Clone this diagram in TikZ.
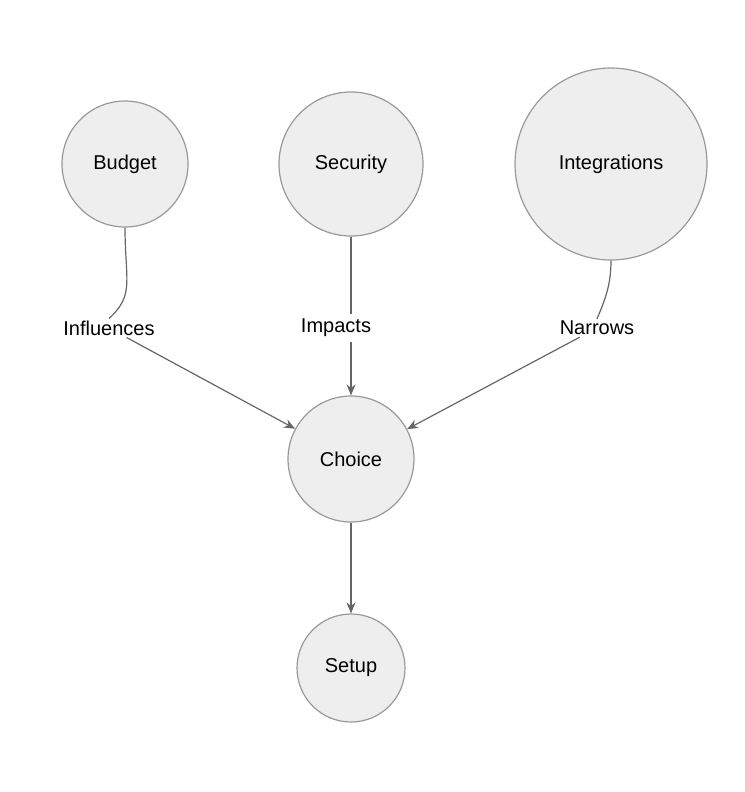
\documentclass[tikz,border=0pt]{standalone}
\usepackage{fontspec}
\setmainfont{Liberation Sans}
\usetikzlibrary{arrows.meta}
\definecolor{nodefill}{HTML}{EEEEEE}
\definecolor{nodeline}{HTML}{999999}
\definecolor{edgeline}{HTML}{666666}
\tikzset{
  topic/.style={circle,fill=nodefill,draw=nodeline,line width=1.2pt,inner sep=0pt,font=\fontsize{20}{24}\selectfont},
  lbl/.style={fill=white,inner sep=2pt,font=\fontsize{20}{24}\selectfont},
  edge/.style={draw=edgeline,line width=1.2pt},
  arr/.style={edge,-{Stealth[length=11pt,width=9pt]}}
}
\begin{document}
\begin{tikzpicture}[x=1pt,y=-1pt]
\useasboundingbox (0,0) rectangle (744,792);
% topics
\node[topic,minimum size=126pt] (budget) at (125,164) {Budget};
\node[topic,minimum size=144pt] (security) at (351,164) {Security};
\node[topic,minimum size=192pt] (integr) at (611,164) {Integrations};
\node[topic,minimum size=126pt] (choice) at (351,459) {Choice};
\node[topic,minimum size=108pt] (setup) at (351,668) {Setup};
% labels
\node[lbl] (infl) at (109,328) {Influences};
\node[lbl] (imp) at (336,328) {Impacts};
\node[lbl] (narr) at (597,328) {Narrows};
% connectors
\draw[edge] (budget.south) .. controls (125,280) and (135,295) .. (infl.north);
\draw[arr] (infl) -- (choice);
\draw[edge] (security.south) -- (351,314);
\draw[arr] (351,342) -- (choice.north);
\draw[edge] (integr.south) .. controls (611,285) and (605,300) .. (narr.north);
\draw[arr] (narr) -- (choice);
\draw[arr] (choice) -- (setup);
\end{tikzpicture}
\end{document}
